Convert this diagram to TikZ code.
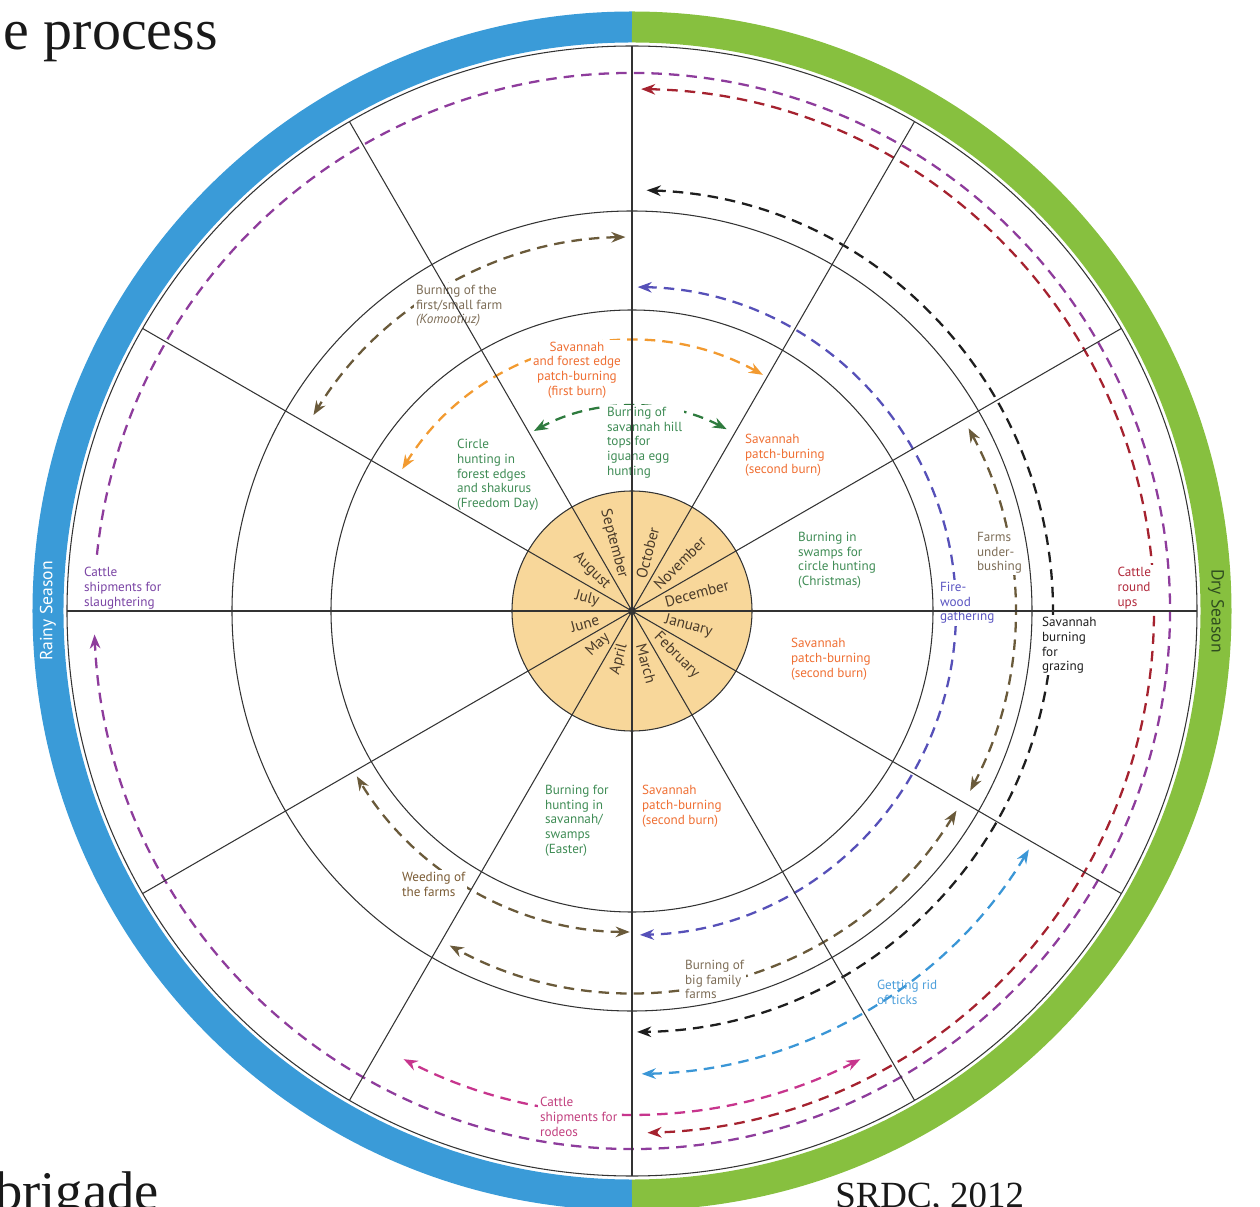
\documentclass[tikz,border=0pt]{standalone}
\usepackage{fontspec}
\usetikzlibrary{arrows.meta}
\newfontfamily\lblfont{PT Sans}
\newfontfamily\ttlfont{Liberation Serif}
\definecolor{rainy}{HTML}{3A9BD8}
\definecolor{dry}{HTML}{87C03F}
\definecolor{tdry}{HTML}{2F4D1F}
\definecolor{yellowc}{HTML}{F8D79A}
\definecolor{gridline}{HTML}{333333}
\definecolor{monthtxt}{HTML}{4A3B2A}
\definecolor{cpurple}{HTML}{8E3C9C}
\definecolor{tpurple}{HTML}{7B45A5}
\definecolor{cmagenta}{HTML}{C7358D}
\definecolor{tmagenta}{HTML}{C2407F}
\definecolor{cmaroon}{HTML}{A5222F}
\definecolor{tmaroon}{HTML}{B22A3C}
\definecolor{cblack}{HTML}{1E1E1E}
\definecolor{cviolet}{HTML}{5650B8}
\definecolor{tviolet}{HTML}{5A54C2}
\definecolor{csky}{HTML}{3A96D6}
\definecolor{tsky}{HTML}{4C9FDB}
\definecolor{cbrown}{HTML}{6A5A3A}
\definecolor{tbrown}{HTML}{7E6E58}
\definecolor{tweed}{HTML}{7B5C35}
\definecolor{corange}{HTML}{F29A30}
\definecolor{torange}{HTML}{EF6F33}
\definecolor{cgreen}{HTML}{2E7B3E}
\definecolor{tgreen}{HTML}{3F8C55}

\begin{document}
\begin{tikzpicture}[x=0.02cm, y=0.02cm,
    lbl/.style={align=left, anchor=north west, inner sep=1pt, font=\lblfont\fontsize{7.5}{8.4}\selectfont},
    wlbl/.style={lbl, fill=white},
    darc/.style={line width=1.3pt, dash pattern=on 6pt off 4pt, >={Stealth[length=8pt,width=6pt]}},
    month/.style={font=\lblfont\fontsize{8.7}{10}\selectfont, text=monthtxt, inner sep=0pt},
    spoke/.style={line width=0.6pt, draw=gridline},
    ttl/.style={font=\ttlfont\fontsize{33}{38}\selectfont, text=black!90, inner sep=0pt}]
    \useasboundingbox (-632,-595) rectangle (628,611);

    \draw[rainy, line width=6.2mm] (90:584) arc[start angle=90, end angle=270, radius=584];
    \draw[dry, line width=6.2mm] (-90:584) arc[start angle=-90, end angle=90, radius=584];

    \draw[darc, cpurple, ->] (174:538) arc[start angle=174, end angle=-177.5, radius=538];
    \draw[darc, cmaroon, <->] (89:522) arc[start angle=89, end angle=-88.3, radius=522];
    \draw[darc, cmagenta, <->] (-63:503) arc[start angle=-63, end angle=-117, radius=503];
    \draw[darc, csky, <->] (-31:463) arc[start angle=-31, end angle=-88.8, radius=463];
    \draw[darc, cblack, <->] (88:421) arc[start angle=88, end angle=-89.3, radius=421];
    \draw[darc, cbrown, <->] (28.5:383) arc[start angle=28.5, end angle=-28, radius=383];
    \draw[darc, cbrown, <->] (-31.6:381) arc[start angle=-31.6, end angle=-118.6, radius=381];
    \draw[darc, cbrown, <->] (91:374) arc[start angle=91, end angle=148.4, radius=374];
    \draw[darc, cviolet, <->] (89:324) arc[start angle=89, end angle=-88.6, radius=324];
    \draw[darc, cbrown, <->] (-90.4:321) arc[start angle=-90.4, end angle=-149, radius=321];
    \draw[darc, corange, <->] (61:270) arc[start angle=61, end angle=148.3, radius=270];
    \draw[darc, cgreen, <->] (62.5:205) arc[start angle=62.5, end angle=118.6, radius=205];

    \node[wlbl, text=tpurple] (slaughter_lbl) at (-550,46) {Cattle\\shipments for\\slaughtering};
    \node[wlbl, text=tmagenta] (rodeos_lbl) at (-94,-484) {Cattle\\shipments for\\rodeos};
    \node[wlbl, text=tmaroon, inner xsep=3pt] (roundups_lbl) at (480,46) {Cattle\\round\\ups};
    \node[wlbl, text=cblack] (grazing_lbl) at (408,-4) {Savannah\\burning\\for\\grazing};
    \node[wlbl, text=tbrown] (underbush_lbl) at (343,81) {Farms\\under-\\bushing};
    \node[wlbl, text=tviolet] (firewood_lbl) at (306,31) {Fire-\\wood\\gathering};
    \node[lbl, text=tsky] (ticks_lbl) at (243,-367) {Getting rid\\of ticks};
    \node[wlbl, text=tbrown] (bigfarm_lbl) at (51,-347) {Burning of\\big family\\farms};
    \node[wlbl, text=tweed] (weeding_lbl) at (-232,-259) {Weeding of\\the farms};
    \node[wlbl, text=tbrown] (smallfarm_lbl) at (-218,328) {Burning of the\\first/small farm\\\textit{(Komootiuz)}};
    \node[wlbl, text=torange, align=center, anchor=center] (firstburn_lbl) at (-55,241) {Savannah\\and forest edge\\patch-burning\\(first burn)};
    \node[wlbl, text=tgreen] (hilltops_lbl) at (-27,206) {Burning of\\savannah hill\\tops for\\iguana egg\\hunting};
    \node[lbl, text=tgreen] (freedom_lbl) at (-177,174) {Circle\\hunting in\\forest edges\\and shakurus\\(Freedom Day)};
    \node[lbl, text=torange] (secondburn_0) at (111,179) {Savannah\\patch-burning\\(second burn)};
    \node[lbl, text=tgreen] (christmas_lbl) at (164,81) {Burning in\\swamps for\\circle hunting\\(Christmas)};
    \node[lbl, text=torange] (secondburn_1) at (157,-25) {Savannah\\patch-burning\\(second burn)};
    \node[lbl, text=tgreen] (easter_lbl) at (-89,-172) {Burning for\\hunting in\\savannah/\\swamps\\(Easter)};
    \node[lbl, text=torange] (secondburn_2) at (8,-172) {Savannah\\patch-burning\\(second burn)};

    \draw[spoke, fill=yellowc] (0,0) circle (120);
    \draw[spoke] (0,0) circle (301);
    \draw[spoke] (0,0) circle (400);
    \draw[spoke] (0,0) circle (565);
    \foreach \a in {0,30,...,330}
        \draw[spoke] (0,0) -- (\a:565);

    \foreach \a/\m in {75/October, 45/November, 15/December, -15/January, -45/February, -75/March}
        \node[month, rotate=\a, anchor=west] (m_\m) at (\a:34) {\m};
    \foreach \a/\m in {105/September, 135/August, 165/July, -165/June, -135/May, -105/April}
        \node[month, rotate=\a-180, anchor=east] (m_\m) at (\a:34) {\m};
    \fill[gridline] (0,0) circle (4);

    \node[font=\lblfont\fontsize{10}{12}\selectfont, text=white, rotate=90, inner sep=0pt] (rainy_lbl) at (180:584) {Rainy Season};
    \node[font=\lblfont\fontsize{10}{12}\selectfont, text=tdry, rotate=-90, inner sep=0pt] (dry_lbl) at (0:584) {Dry Season};

    \node[ttl, anchor=base east] (title_lbl) at (-414,561) {e process};
    \node[ttl, font=\ttlfont\fontsize{31}{36}\selectfont, anchor=base west] (brigade_lbl) at (-637,-598) {brigade};
    \node[ttl, font=\ttlfont\fontsize{21}{24}\selectfont, anchor=base west] (srdc_lbl) at (203,-596) {SRDC, 2012};
\end{tikzpicture}
\end{document}
